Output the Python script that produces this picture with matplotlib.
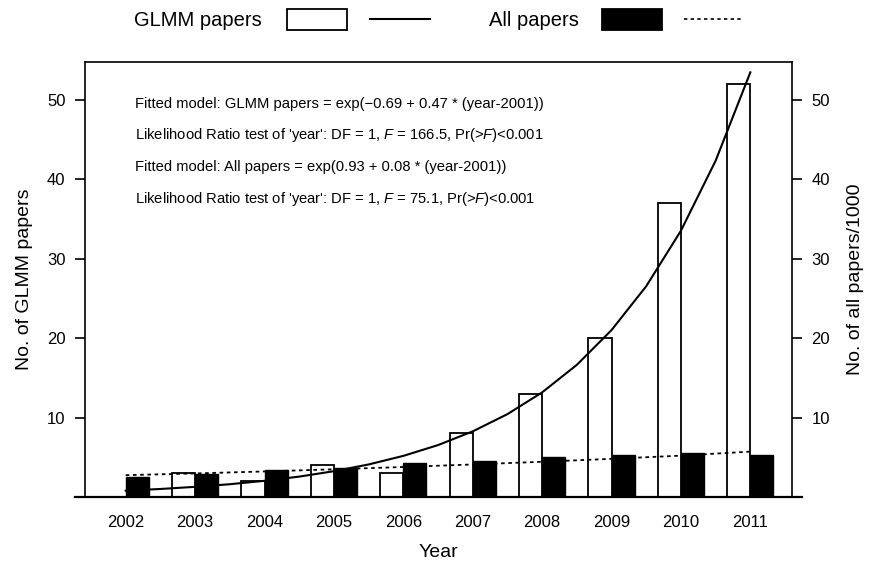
import numpy as np
import matplotlib
matplotlib.use('Agg')
import matplotlib.pyplot as plt
from matplotlib.patches import Rectangle

plt.rcParams['font.family'] = ['Liberation Sans', 'DejaVu Sans']
plt.rcParams['mathtext.fontset'] = 'custom'
plt.rcParams['mathtext.it'] = 'Liberation Sans:italic'
plt.rcParams['mathtext.rm'] = 'Liberation Sans'

# data
years = [2002, 2003, 2004, 2005, 2006, 2007, 2008, 2009, 2010, 2011]
glmm_papers = [0, 3, 2, 4, 3, 8, 13, 20, 37, 52]
all_papers_k = [2.55, 2.9, 3.4, 3.6, 4.25, 4.55, 5.05, 5.25, 5.6, 5.25]

# fitted curves (half-year steps, years since 2001)
fit_t = [1, 1.5, 2, 2.5, 3, 3.5, 4, 4.5, 5, 5.5, 6, 6.5, 7, 7.5, 8, 8.5, 9, 9.5, 10]
glmm_fit = [0.80, 1.01, 1.28, 1.61, 2.04, 2.57, 3.25, 4.10, 5.18, 6.54, 8.27,
            10.44, 13.18, 16.65, 21.03, 26.56, 33.55, 42.37, 53.5]
all_fit_t = [1, 2, 3, 4, 5, 6, 7, 8, 9, 10]
all_fit = [2.75, 2.97, 3.22, 3.49, 3.78, 4.10, 4.44, 4.81, 5.21, 5.72]

ticks = [10, 20, 30, 40, 50]

notes = [
    "Fitted model: GLMM papers = exp(\u22120.69 + 0.47 * (year-2001))",
    "Likelihood Ratio test of 'year': DF = 1, $F$ = 166.5, Pr(>$F$)<0.001",
    "Fitted model: All papers = exp(0.93 + 0.08 * (year-2001))",
    "Likelihood Ratio test of 'year': DF = 1, $F$ = 75.1, Pr(>$F$)<0.001",
]

W, H = 875, 562
fig = plt.figure(figsize=(W / 100, H / 100), dpi=100)
ax = fig.add_axes([85 / W, 1 - 497 / H, (792 - 85) / W, (497 - 62) / H])

# group centres: 3 units per year (white bar, black bar, gap)
centres = np.arange(len(years)) * 3.0
ax.bar(centres - 0.5, glmm_papers, width=1.0, color='white', edgecolor='black',
       linewidth=1.3, zorder=2)
ax.bar(centres + 0.5, all_papers_k, width=1.0, color='black', edgecolor='black',
       linewidth=1.0, zorder=2)

fit_x = (np.array(fit_t) - 1) * 3.0
ax.plot(fit_x, glmm_fit, color='black', lw=1.5, zorder=3, clip_on=False)
all_x = (np.array(all_fit_t) - 1) * 3.0
ax.plot(all_x, all_fit, color='black', lw=1.3, ls=(0, (2, 2)), zorder=3)

ax.set_xlim(-1.76, 28.8)
ax.set_ylim(0, 54.8)
ax.set_xticks(centres)
ax.set_xticklabels([str(y) for y in years], fontsize=12)
ax.tick_params(axis='x', length=0, pad=13)
ax.set_yticks(ticks)
ax.tick_params(axis='y', labelsize=12, length=7, width=1.2, pad=7)
for s in ('left', 'right', 'top'):
    ax.spines[s].set_linewidth(1.2)
ax.spines['bottom'].set_visible(False)
ax.plot([-10 / 707, 1 + 10 / 707], [0, 0], transform=ax.transAxes,
        color='black', lw=1.6, clip_on=False, zorder=4)

ax.set_xlabel('Year', fontsize=14, labelpad=10)
ax.set_ylabel('No. of GLMM papers', fontsize=14, labelpad=10)

# right axis, same scale
ax2 = ax.twinx()
ax2.set_ylim(ax.get_ylim())
ax2.set_yticks(ticks)
ax2.tick_params(axis='y', labelsize=12, length=7, width=1.2, pad=7)
for s in ax2.spines.values():
    s.set_visible(False)
ax2.set_ylabel('No. of all papers/1000', fontsize=14, labelpad=12)

# overlay in pixel coordinates for legend and notes
ov = fig.add_axes([0, 0, 1, 1])
ov.set_xlim(0, W)
ov.set_ylim(H, 0)
ov.axis('off')

for i, t in enumerate(notes):
    ov.text(135, 104 + i * 31.5, t, fontsize=10.6, va='center', ha='left')

ov.text(134, 20, 'GLMM papers', fontsize=14.5, va='center', ha='left')
ov.add_patch(Rectangle((287, 9), 60, 21, facecolor='white', edgecolor='black', lw=1.3))
ov.plot([370, 430], [19, 19], color='black', lw=1.5)
ov.text(489, 20, 'All papers', fontsize=14.5, va='center', ha='left')
ov.add_patch(Rectangle((602, 9), 60, 21, facecolor='black', edgecolor='black', lw=1.3))
ov.plot([684, 744], [19, 19], color='black', lw=1.2, ls=(0, (2, 2)))

fig.savefig('out.png', dpi=100)
